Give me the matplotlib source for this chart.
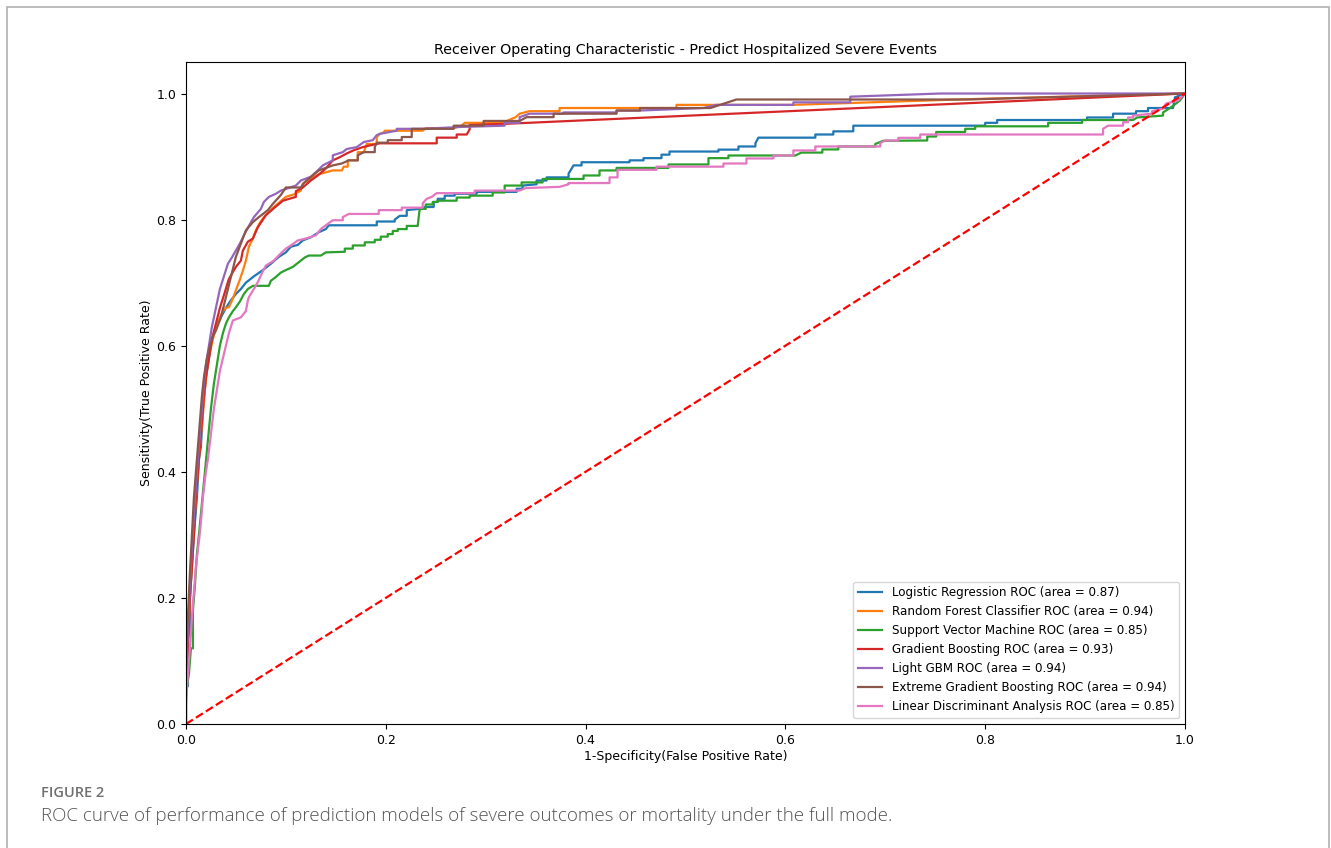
import matplotlib
matplotlib.use("Agg")
import matplotlib.pyplot as plt
from matplotlib.patches import Rectangle

# ROC vertices (fpr, tpr)
lr_fpr = [0, 0, .002, .002, .004, .004, .006, .008, .011, .013, .015, .017, .020, .023, .026, .030, .035, .040, .045, .050,
          .055, .060, .068, .077, .085, .093, .100, .105, .112, .117, .125, .133, .140, .143, .191, .191, .209, .209, .214, .221,
          .221, .239, .239, .248, .248, .252, .252, .259, .259, .269, .269, .291, .291, .331, .331, .337, .337, .351, .351, .361,
          .361, .383, .383, .388, .396, .396, .444, .444, .458, .458, .476, .476, .484, .484, .533, .533, .553, .553, .570, .570,
          .573, .630, .630, .648, .648, .668, .668, .800, .800, .812, .812, .902, .902, .928, .928, .951, .951, .963, .963, .988,
          .990, 1.0]
lr_tpr = [0, .06, .06, .14, .14, .20, .25, .30, .36, .42, .44, .50, .55, .58, .61, .63, .645, .66, .672, .682,
          .690, .700, .710, .720, .730, .741, .748, .757, .760, .767, .772, .780, .785, .791, .791, .797, .797, .800, .806, .806,
          .815, .818, .820, .820, .828, .828, .833, .833, .838, .838, .841, .841, .844, .844, .849, .849, .854, .856, .862, .862,
          .867, .867, .873, .886, .886, .891, .891, .894, .894, .8975, .8975, .903, .903, .908, .908, .911, .911, .916, .916, .921,
          .930, .930, .935, .935, .940, .940, .949, .949, .9535, .9535, .958, .958, .962, .962, .968, .968, .972, .972, .977, .977,
          .994, 1.0]

rf_fpr = [0, 0, .002, .004, .006, .008, .010, .012, .014, .017, .019, .021, .024, .027, .030, .034, .037, .040, .043, .047,
          .050, .054, .057, .060, .063, .067, .070, .074, .078, .083, .088, .094, .100, .108, .115, .117, .125, .133, .147, .156,
          .158, .162, .162, .172, .172, .178, .181, .191, .191, .194, .199, .199, .237, .240, .268, .276, .279, .317, .330, .334,
          .344, .374, .374, .491, .491, .608, .783, 1.0]
rf_tpr = [0, .06, .13, .20, .26, .31, .36, .40, .44, .49, .53, .56, .59, .61, .63, .645, .655, .66, .661, .675,
          .688, .705, .719, .735, .757, .770, .783, .795, .804, .812, .820, .828, .836, .840, .846, .857, .865, .872, .878, .878,
          .884, .884, .894, .894, .907, .907, .920, .920, .931, .936, .939, .941, .941, .945, .945, .949, .9535, .9535, .9625, .968,
          .972, .972, .977, .977, .982, .982, .991, 1.0]

svm_fpr = [0, 0, .003, .005, .007, .007, .009, .011, .013, .016, .019, .022, .025, .028, .031, .034, .037, .040, .043, .047,
           .050, .054, .058, .062, .067, .083, .085, .090, .095, .100, .107, .111, .115, .119, .123, .135, .140, .159, .159, .167,
           .167, .179, .179, .189, .189, .195, .195, .202, .202, .207, .207, .212, .212, .221, .221, .232, .233, .234, .240, .240,
           .247, .247, .252, .252, .271, .271, .284, .284, .307, .307, .319, .319, .336, .336, .357, .357, .398, .398, .414, .414,
           .431, .431, .483, .483, .523, .523, .543, .543, .610, .616, .637, .637, .653, .653, .690, .690, .698, .742, .742, .751,
           .751, .780, .780, .790, .790, .863, .863, .897, .897, .948, .952, .978, .978, .986, .995, 1.0]
svm_tpr = [0, .05, .08, .12, .12, .18, .22, .27, .30, .35, .40, .45, .50, .54, .57, .60, .62, .635, .645, .655,
           .661, .670, .682, .690, .695, .695, .703, .709, .716, .720, .725, .730, .735, .740, .743, .743, .748, .749, .754, .754,
           .759, .759, .764, .764, .768, .768, .773, .773, .777, .777, .782, .782, .785, .785, .790, .790, .804, .817, .817, .824,
           .824, .828, .828, .830, .830, .835, .835, .838, .838, .843, .843, .854, .854, .859, .859, .8645, .8645, .870, .870, .878,
           .878, .882, .882, .8875, .8875, .8975, .8975, .9017, .9017, .9063, .9063, .9113, .9113, .916, .916, .920, .925, .9255, .9318, .9318,
           .939, .939, .944, .944, .948, .948, .9535, .9535, .958, .958, .962, .965, .970, .978, .989, 1.0]

gb_fpr = [0, 0, .002, .004, .006, .008, .010, .012, .014, .016, .018, .020, .023, .026, .030, .034, .038, .043, .050, .055,
          .057, .062, .067, .072, .080, .088, .097, .110, .110, .117, .125, .132, .140, .147, .154, .161, .168, .177, .185, .194,
          .251, .251, .271, .271, .281, .284, .284, .321, 1.0]
gb_tpr = [0, .07, .12, .20, .25, .30, .36, .40, .44, .48, .52, .55, .58, .61, .635, .66, .68, .706, .725, .735,
          .751, .765, .770, .788, .807, .818, .830, .836, .845, .851, .862, .870, .881, .894, .899, .905, .910, .915, .918, .921,
          .921, .930, .930, .935, .935, .943, .950, .952, 1.0]

lgbm_fpr = [0, 0, .002, .004, .006, .008, .010, .012, .014, .016, .018, .020, .023, .026, .030, .034, .038, .042, .046, .050,
            .054, .058, .063, .068, .075, .078, .083, .090, .095, .110, .115, .125, .132, .137, .147, .147, .157, .161, .171, .178,
            .187, .191, .194, .211, .211, .236, .276, .319, .319, .334, .334, .344, .378, .378, .431, .431, .4545, .518, .531, .608,
            .608, .665, .665, .755, 1.0]
lgbm_tpr = [0, .08, .15, .22, .28, .33, .38, .42, .46, .50, .54, .57, .60, .63, .66, .69, .71, .73, .74, .751,
            .762, .775, .790, .804, .817, .828, .836, .841, .846, .854, .862, .868, .878, .886, .894, .902, .907, .912, .915, .923,
            .926, .934, .936, .941, .944, .944, .947, .949, .9535, .9535, .9625, .968, .968, .970, .970, .973, .973, .977, .982, .982,
            .986, .986, .995, 1.0, 1.0]

xgb_fpr = [0, 0, .002, .004, .006, .008, .010, .012, .014, .016, .018, .021, .024, .027, .030, .035, .040, .045, .050, .055,
           .060, .067, .073, .082, .087, .095, .100, .115, .118, .123, .133, .147, .156, .163, .172, .172, .178, .189, .189, .191,
           .202, .202, .216, .216, .226, .226, .268, .268, .298, .298, .334, .341, .368, .368, .431, .431, .4545, .4545, .525, .551,
           .782, 1.0]
xgb_tpr = [0, .10, .17, .24, .30, .36, .40, .44, .48, .52, .55, .58, .60, .615, .624, .645, .677, .709, .741, .762,
           .783, .796, .804, .815, .825, .839, .851, .851, .858, .865, .878, .886, .889, .894, .894, .902, .907, .907, .915, .922,
           .922, .926, .926, .931, .931, .944, .944, .949, .949, .9565, .9565, .9625, .9625, .968, .968, .973, .973, .977, .977, .9905,
           .9905, 1.0]

lda_fpr = [0, 0, .002, .004, .006, .008, .010, .013, .015, .017, .020, .022, .025, .028, .031, .034, .037, .040, .043, .047,
           .055, .060, .062, .063, .068, .072, .076, .080, .088, .094, .100, .106, .112, .120, .130, .135, .140, .147, .157, .157,
           .163, .193, .193, .216, .216, .237, .237, .241, .246, .251, .289, .289, .334, .340, .374, .383, .383, .424, .424, .432,
           .432, .471, .471, .538, .538, .561, .561, .588, .588, .608, .608, .630, .630, .695, .695, .700, .713, .713, .735, .735,
           .918, .918, .923, .938, .938, .943, .943, .948, .948, .967, .967, .978, .981, .993, 1.0]
lda_tpr = [0, .03, .08, .12, .17, .21, .25, .29, .32, .36, .40, .42, .46, .50, .53, .56, .58, .60, .62, .640,
           .645, .655, .672, .677, .690, .701, .715, .727, .735, .745, .754, .760, .767, .770, .775, .785, .791, .799, .799, .804,
           .809, .809, .815, .815, .819, .819, .826, .833, .836, .842, .842, .846, .846, .850, .852, .856, .858, .858, .867, .867,
           .879, .879, .884, .884, .889, .889, .897, .897, .9017, .9017, .9097, .9097, .916, .916, .9213, .9255, .9255, .9297, .9297, .935,
           .935, .944, .949, .949, .9545, .9545, .962, .962, .965, .968, .972, .976, .984, .989, 1.0]

labels = ["Logistic Regression ROC (area = 0.87)",
          "Random Forest Classifier ROC (area = 0.94)",
          "Support Vector Machine ROC (area = 0.85)",
          "Gradient Boosting ROC (area = 0.93)",
          "Light GBM ROC (area = 0.94)",
          "Extreme Gradient Boosting ROC (area = 0.94)",
          "Linear Discriminant Analysis ROC (area = 0.85)"]
curves = [(lr_fpr, lr_tpr), (rf_fpr, rf_tpr), (svm_fpr, svm_tpr), (gb_fpr, gb_tpr),
          (lgbm_fpr, lgbm_tpr), (xgb_fpr, xgb_tpr), (lda_fpr, lda_tpr)]

fig = plt.figure(figsize=(13.31, 8.48), dpi=100)
ax = fig.add_axes([0.1397, 0.1462, 0.7506, 0.7807])

for (f, t), lab in zip(curves, labels):
    ax.plot(f, t, lw=1.6, label=lab)
ax.plot([0, 1], [0, 1], 'r--', lw=1.6)

ax.set_xlim([0.0, 1.0])
ax.set_ylim([0.0, 1.05])
ax.set_xlabel("1-Specificity(False Positive Rate)", fontsize=9, labelpad=2.5)
ax.set_ylabel("Sensitivity(True Positive Rate)", fontsize=9, labelpad=2.5)
ax.set_title("Receiver Operating Characteristic - Predict Hospitalized Severe Events", fontsize=10.3)
ax.tick_params(labelsize=9)
ax.legend(loc="lower right", fontsize=8.6)

# page frame and caption
fig.patches.append(Rectangle((7 / 1331, -0.05), 1322 / 1331, 1.05 - 7 / 848, transform=fig.transFigure,
                             fill=False, edgecolor='#b0b0b0', lw=1.2, clip_on=False))
fig.text(41 / 1331, 1 - 793 / 848, "FIGURE 2", fontsize=10.5, color='#707070', family='Open Sans',
         fontweight='semibold', va='center')
fig.text(41 / 1331, 1 - 816 / 848, "ROC curve of performance of prediction models of severe outcomes or mortality under the full mode.",
         fontsize=13.5, color='#555555', family='Open Sans', fontweight='light', va='center')

fig.savefig("out.png", dpi=100)
